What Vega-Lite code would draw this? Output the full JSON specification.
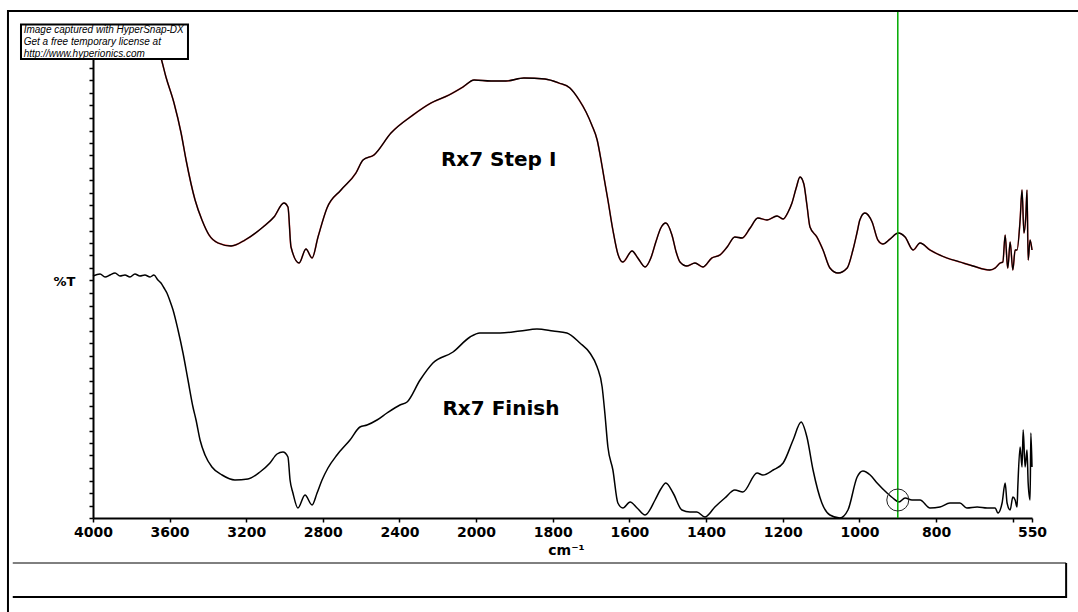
{
  "$schema": "https://vega.github.io/schema/vega-lite/v6.json",
  "width": 939,
  "height": 488,
  "autosize": {"type": "none"},
  "padding": {"left": 93, "top": 30, "right": 46, "bottom": 94},
  "background": "white",
  "config": {"view": {"stroke": null}},
  "datasets": {
    "stepI": [
      {"wn":4000,"t":96.8},{"wn":3950,"t":97.0},{"wn":3911,"t":96.6},{"wn":3860,"t":96.9},{"wn":3807,"t":96.6},{"wn":3760,"t":96.4},{"wn":3729,"t":96.2},{"wn":3676,"t":95.2},{"wn":3645,"t":92.0},{"wn":3619,"t":88.2},{"wn":3577,"t":83.0},{"wn":3540,"t":77.0},{"wn":3514,"t":71.6},{"wn":3467,"t":63.6},{"wn":3431,"t":59.6},{"wn":3394,"t":56.6},{"wn":3347,"t":55.0},{"wn":3279,"t":54.4},{"wn":3206,"t":55.6},{"wn":3112,"t":58.2},{"wn":3055,"t":60.2},{"wn":3003,"t":63.0},{"wn":2982,"t":62.2},{"wn":2966,"t":54.2},{"wn":2924,"t":51.0},{"wn":2888,"t":53.8},{"wn":2856,"t":52.0},{"wn":2825,"t":56.2},{"wn":2778,"t":62.0},{"wn":2705,"t":65.6},{"wn":2627,"t":69.0},{"wn":2590,"t":71.6},{"wn":2533,"t":72.6},{"wn":2444,"t":77.0},{"wn":2329,"t":80.6},{"wn":2235,"t":83.0},{"wn":2141,"t":84.6},{"wn":2068,"t":86.2},{"wn":2010,"t":87.6},{"wn":1961,"t":87.4},{"wn":1922,"t":87.4},{"wn":1875,"t":88.0},{"wn":1820,"t":87.8},{"wn":1784,"t":87.0},{"wn":1755,"t":86.0},{"wn":1731,"t":83.6},{"wn":1713,"t":81.2},{"wn":1698,"t":78.6},{"wn":1684,"t":75.6},{"wn":1674,"t":71.6},{"wn":1666,"t":68.0},{"wn":1656,"t":63.6},{"wn":1643,"t":57.6},{"wn":1630,"t":52.8},{"wn":1617,"t":51.2},{"wn":1593,"t":53.4},{"wn":1578,"t":52.0},{"wn":1559,"t":50.2},{"wn":1544,"t":52.0},{"wn":1531,"t":55.2},{"wn":1518,"t":58.0},{"wn":1505,"t":59.0},{"wn":1489,"t":56.6},{"wn":1478,"t":53.2},{"wn":1468,"t":51.2},{"wn":1450,"t":50.4},{"wn":1429,"t":51.0},{"wn":1408,"t":50.2},{"wn":1385,"t":52.0},{"wn":1364,"t":52.6},{"wn":1345,"t":54.2},{"wn":1325,"t":56.2},{"wn":1306,"t":56.0},{"wn":1285,"t":58.0},{"wn":1265,"t":60.0},{"wn":1241,"t":59.6},{"wn":1215,"t":60.4},{"wn":1199,"t":59.8},{"wn":1186,"t":61.2},{"wn":1176,"t":63.0},{"wn":1165,"t":66.0},{"wn":1155,"t":68.2},{"wn":1145,"t":66.8},{"wn":1137,"t":62.6},{"wn":1129,"t":58.2},{"wn":1111,"t":56.2},{"wn":1095,"t":53.6},{"wn":1077,"t":50.0},{"wn":1056,"t":49.0},{"wn":1032,"t":50.0},{"wn":1017,"t":53.6},{"wn":1006,"t":57.2},{"wn":999,"t":59.6},{"wn":986,"t":61.0},{"wn":967,"t":59.2},{"wn":952,"t":55.6},{"wn":939,"t":54.8},{"wn":920,"t":55.8},{"wn":899,"t":57.0},{"wn":881,"t":56.2},{"wn":860,"t":53.6},{"wn":842,"t":55.0},{"wn":816,"t":53.6},{"wn":772,"t":52.0},{"wn":738,"t":51.2},{"wn":704,"t":50.4},{"wn":660,"t":49.6},{"wn":646,"t":50.0},{"wn":633,"t":51.0},{"wn":626,"t":51.2},{"wn":620,"t":56.6},{"wn":615,"t":51.2},{"wn":613,"t":50.0},{"wn":607,"t":55.2},{"wn":600,"t":49.6},{"wn":594,"t":53.6},{"wn":589,"t":53.6},{"wn":581,"t":59.6},{"wn":576,"t":65.6},{"wn":571,"t":57.0},{"wn":566,"t":60.6},{"wn":563,"t":65.6},{"wn":560,"t":51.6},{"wn":555,"t":55.6},{"wn":550,"t":53.6}
    ],
    "finish": [
      {"wn":4000,"t":48.4},{"wn":3963,"t":48.8},{"wn":3937,"t":48.2},{"wn":3911,"t":48.6},{"wn":3885,"t":49.0},{"wn":3859,"t":48.4},{"wn":3833,"t":48.6},{"wn":3807,"t":48.2},{"wn":3781,"t":48.8},{"wn":3755,"t":48.4},{"wn":3729,"t":48.6},{"wn":3702,"t":48.2},{"wn":3682,"t":48.6},{"wn":3661,"t":47.6},{"wn":3645,"t":47.0},{"wn":3629,"t":46.0},{"wn":3614,"t":45.0},{"wn":3598,"t":43.4},{"wn":3582,"t":41.6},{"wn":3556,"t":37.6},{"wn":3530,"t":33.0},{"wn":3504,"t":27.6},{"wn":3478,"t":22.2},{"wn":3462,"t":19.6},{"wn":3441,"t":15.6},{"wn":3415,"t":12.6},{"wn":3379,"t":10.2},{"wn":3326,"t":8.6},{"wn":3259,"t":7.6},{"wn":3191,"t":7.8},{"wn":3128,"t":9.2},{"wn":3076,"t":11.0},{"wn":3039,"t":12.8},{"wn":3008,"t":13.2},{"wn":2982,"t":12.2},{"wn":2971,"t":7.6},{"wn":2956,"t":5.0},{"wn":2930,"t":2.0},{"wn":2893,"t":4.6},{"wn":2856,"t":2.6},{"wn":2830,"t":5.0},{"wn":2804,"t":7.6},{"wn":2773,"t":10.0},{"wn":2726,"t":12.6},{"wn":2658,"t":15.6},{"wn":2606,"t":18.2},{"wn":2569,"t":18.6},{"wn":2517,"t":19.6},{"wn":2465,"t":21.0},{"wn":2397,"t":22.6},{"wn":2360,"t":23.2},{"wn":2292,"t":27.6},{"wn":2225,"t":31.0},{"wn":2120,"t":33.2},{"wn":2031,"t":36.2},{"wn":1990,"t":37.0},{"wn":1937,"t":37.0},{"wn":1885,"t":37.4},{"wn":1841,"t":37.8},{"wn":1799,"t":37.4},{"wn":1763,"t":37.0},{"wn":1729,"t":35.0},{"wn":1703,"t":33.0},{"wn":1684,"t":30.2},{"wn":1671,"t":26.2},{"wn":1664,"t":21.0},{"wn":1656,"t":14.2},{"wn":1643,"t":9.6},{"wn":1630,"t":3.0},{"wn":1617,"t":2.0},{"wn":1598,"t":3.2},{"wn":1580,"t":2.0},{"wn":1559,"t":0.6},{"wn":1533,"t":3.6},{"wn":1518,"t":5.8},{"wn":1505,"t":7.0},{"wn":1486,"t":5.0},{"wn":1463,"t":1.6},{"wn":1442,"t":1.2},{"wn":1424,"t":1.2},{"wn":1403,"t":0.2},{"wn":1377,"t":2.2},{"wn":1351,"t":4.0},{"wn":1325,"t":5.6},{"wn":1304,"t":5.2},{"wn":1267,"t":9.0},{"wn":1252,"t":8.6},{"wn":1225,"t":9.6},{"wn":1199,"t":11.0},{"wn":1173,"t":15.6},{"wn":1152,"t":19.2},{"wn":1137,"t":16.2},{"wn":1121,"t":9.6},{"wn":1098,"t":3.0},{"wn":1077,"t":0.6},{"wn":1051,"t":0.0},{"wn":1030,"t":1.6},{"wn":1006,"t":8.2},{"wn":991,"t":9.4},{"wn":972,"t":8.6},{"wn":954,"t":7.0},{"wn":928,"t":5.0},{"wn":913,"t":4.0},{"wn":897,"t":3.2},{"wn":881,"t":4.0},{"wn":863,"t":3.6},{"wn":842,"t":3.6},{"wn":816,"t":2.0},{"wn":790,"t":2.2},{"wn":764,"t":3.0},{"wn":738,"t":3.0},{"wn":720,"t":2.0},{"wn":693,"t":2.2},{"wn":667,"t":2.0},{"wn":646,"t":2.0},{"wn":639,"t":1.0},{"wn":628,"t":3.0},{"wn":620,"t":7.0},{"wn":615,"t":3.0},{"wn":607,"t":1.6},{"wn":600,"t":4.2},{"wn":594,"t":3.6},{"wn":589,"t":2.2},{"wn":587,"t":6.2},{"wn":581,"t":14.2},{"wn":576,"t":10.2},{"wn":573,"t":17.6},{"wn":568,"t":10.2},{"wn":563,"t":13.6},{"wn":560,"t":7.0},{"wn":555,"t":3.6},{"wn":553,"t":17.0},{"wn":550,"t":10.2}
    ],
    "labels": [
      {"wn": 1941, "t": 70.4, "label": "Rx7 Step I"},
      {"wn": 1935, "t": 20.6, "label": "Rx7 Finish"}
    ],
    "watermark": [
      {"wn": 4362, "t": 97.6, "line": "Image captured with HyperSnap-DX"},
      {"wn": 4362, "t": 95.2, "line": "Get a free temporary license at"},
      {"wn": 4362, "t": 92.9, "line": "http://www.hyperionics.com"}
    ],
    "cursor": [{"wn": 900, "t": 3.6}]
  },
  "layer": [
    {
      "data": {"name": "stepI"},
      "mark": {"type": "line", "color": "#e00000", "strokeWidth": 1.6, "opacity": 0.7, "interpolate": "monotone"},
      "encoding": {
        "x": {
          "field": "wn", "type": "quantitative",
          "scale": {"domain": [4000, 2000, 550], "range": [0, 383, 939], "nice": false, "zero": false},
          "axis": {
            "title": "cm⁻¹",
            "values": [4000, 3600, 3200, 2800, 2400, 2000, 1800, 1600, 1400, 1200, 1000, 800, 600, 550],
            "tickCount": 20,
            "format": "d",
            "labelExpr": "datum.value == 600 ? '' : datum.label",
            "grid": false,
            "domainColor": "black", "domainWidth": 2,
            "tickColor": "black", "tickSize": 4, "tickWidth": 1.5,
            "labelFont": "DejaVu Sans", "labelFontWeight": "bold", "labelFontSize": 14, "labelColor": "black",
            "labelPadding": 3, "labelFlush": false, "labelOverlap": false, "labelBound": false,
            "titleFont": "DejaVu Sans", "titleFontWeight": "bold", "titleFontSize": 14, "titleColor": "black",
            "titleX": 473, "titleY": 36, "titleAlign": "center", "titleBaseline": "alphabetic"
          }
        },
        "y": {
          "field": "t", "type": "quantitative",
          "scale": {"domain": [0, 97.6], "nice": false, "zero": false},
          "axis": {
            "title": "%T",
            "titleAngle": 0, "titleAlign": "right", "titleBaseline": "alphabetic",
            "titleX": -18, "titleY": 255,
            "titleFont": "DejaVu Sans", "titleFontWeight": "bold", "titleFontSize": 13, "titleColor": "black",
            "labels": false, "grid": false,
            "tickCount": 60,
            "values": [0,2.5,5,7.5,10,12.5,15,17.5,20,22.5,25,27.5,30,32.5,35,37.5,40,42.5,45,47.5,50,52.5,55,57.5,60,62.5,65,67.5,70,72.5,75,77.5,80,82.5,85,87.5,90,92.5,95,97.5],
            "domainColor": "black", "domainWidth": 2,
            "tickColor": "black", "tickSize": 4, "tickWidth": 1.5
          }
        }
      }
    },
    {
      "data": {"name": "stepI"},
      "mark": {"type": "line", "color": "black", "strokeWidth": 1.3, "interpolate": "monotone"},
      "encoding": {
        "x": {"field": "wn", "type": "quantitative"},
        "y": {"field": "t", "type": "quantitative"}
      }
    },
    {
      "data": {"name": "finish"},
      "mark": {"type": "line", "color": "black", "strokeWidth": 1.5, "interpolate": "monotone"},
      "encoding": {
        "x": {"field": "wn", "type": "quantitative"},
        "y": {"field": "t", "type": "quantitative"}
      }
    },
    {
      "data": {"name": "cursor"},
      "mark": {"type": "rule", "color": "#00aa00", "strokeWidth": 1.5, "clip": false},
      "encoding": {
        "x": {"field": "wn", "type": "quantitative"},
        "y": {"datum": 101.4},
        "y2": {"datum": 0}
      }
    },
    {
      "data": {"name": "cursor"},
      "mark": {"type": "point", "shape": "circle", "filled": false, "size": 484, "stroke": "#222222", "strokeWidth": 1, "opacity": 1},
      "encoding": {
        "x": {"field": "wn", "type": "quantitative"},
        "y": {"field": "t", "type": "quantitative"}
      }
    },
    {
      "data": {"name": "labels"},
      "mark": {"type": "text", "font": "DejaVu Sans", "fontWeight": "bold", "fontSize": 20, "align": "center", "baseline": "alphabetic", "color": "black"},
      "encoding": {
        "x": {"field": "wn", "type": "quantitative"},
        "y": {"field": "t", "type": "quantitative"},
        "text": {"field": "label"}
      }
    },
    {
      "data": {"values": [{}]},
      "mark": {"type": "rect", "fill": "white", "stroke": "black", "strokeWidth": 2, "clip": false},
      "encoding": {
        "x": {"datum": 4376},
        "x2": {"datum": 3504},
        "y": {"datum": 98.7},
        "y2": {"datum": 91.8}
      }
    },
    {
      "data": {"name": "watermark"},
      "mark": {"type": "text", "font": "Liberation Sans", "fontStyle": "italic", "fontSize": 10, "align": "left", "baseline": "middle", "color": "black", "clip": false},
      "encoding": {
        "x": {"field": "wn", "type": "quantitative"},
        "y": {"field": "t", "type": "quantitative"},
        "text": {"field": "line"}
      }
    },
    {
      "data": {"values": [{}]},
      "mark": {"type": "rule", "color": "black", "strokeWidth": 2, "clip": false},
      "encoding": {
        "x": {"datum": 4444},
        "x2": {"datum": 380},
        "y": {"datum": 101.4}
      }
    },
    {
      "data": {"values": [{}]},
      "mark": {"type": "rule", "color": "black", "strokeWidth": 2, "clip": false},
      "encoding": {
        "x": {"datum": 4444},
        "y": {"datum": 101.6},
        "y2": {"datum": -30}
      }
    },
    {
      "data": {"values": [{}]},
      "mark": {"type": "rule", "color": "black", "strokeWidth": 1, "clip": false},
      "encoding": {
        "x": {"datum": 4419},
        "x2": {"datum": 461},
        "y": {"datum": -9}
      }
    },
    {
      "data": {"values": [{}]},
      "mark": {"type": "rule", "color": "black", "strokeWidth": 2, "clip": false},
      "encoding": {
        "x": {"datum": 4419},
        "x2": {"datum": 461},
        "y": {"datum": -15.8}
      }
    },
    {
      "data": {"values": [{}]},
      "mark": {"type": "rule", "color": "black", "strokeWidth": 2, "clip": false},
      "encoding": {
        "x": {"datum": 461},
        "y": {"datum": -9},
        "y2": {"datum": -16}
      }
    }
  ]
}
